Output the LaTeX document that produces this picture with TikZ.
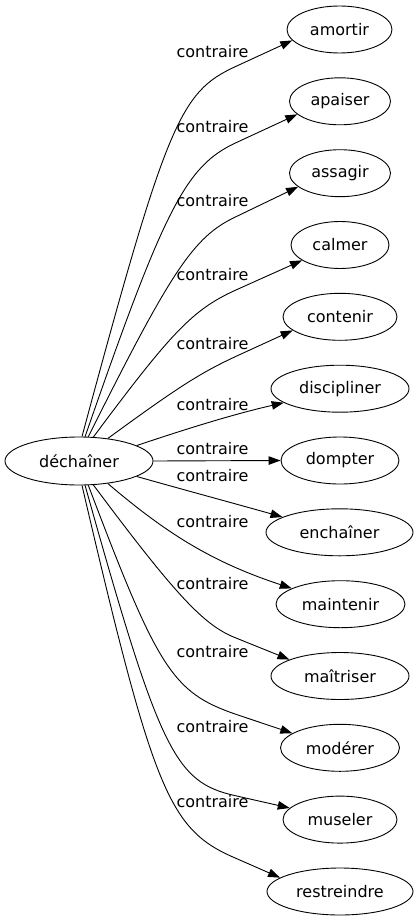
\documentclass[tikz,border=0pt]{standalone}
\usepackage{fontspec}
\setmainfont{DejaVu Sans}
\usetikzlibrary{shapes.geometric,arrows.meta}
\begin{document}
\begin{tikzpicture}[x=1pt,y=-1pt,
  word/.style={draw=black, line width=0.9pt, ellipse, inner sep=0pt, minimum height=47pt, font=\fontsize{16}{19}\selectfont},
  lbl/.style={inner sep=0pt, font=\fontsize{16}{19}\selectfont},
  link/.style={draw=black, line width=0.9pt, -{Triangle[length=12pt,width=8.5pt]}}]
\useasboundingbox (0,0) rectangle (417,923);
\node[word, minimum width=148pt, minimum height=48pt] (dech) at (79,461) {déchaîner};
\node[word, minimum width=105pt] (amortir) at (339.5,29.5) {amortir};
\node[word, minimum width=101pt] (apaiser) at (340,101.3) {apaiser};
\node[word, minimum width=101pt] (assagir) at (340,173.2) {assagir};
\node[word, minimum width=98pt] (calmer) at (340,245) {calmer};
\node[word, minimum width=114pt] (contenir) at (340,316.8) {contenir};
\node[word, minimum width=138pt] (discipliner) at (340,388.7) {discipliner};
\node[word, minimum width=118pt] (dompter) at (340,460.5) {dompter};
\node[word, minimum width=147pt] (enchainer) at (339.5,532.3) {enchaîner};
\node[word, minimum width=129pt] (maintenir) at (340.5,604.2) {maintenir};
\node[word, minimum width=138pt] (maitriser) at (340,676) {maîtriser};
\node[word, minimum width=119pt] (moderer) at (340,747.8) {modérer};
\node[word, minimum width=114pt] (museler) at (340,819.6) {museler};
\node[word, minimum width=146pt] (restreindre) at (340,891.5) {restreindre};

\draw[link] (dech.83) .. controls (166.6,122.4) and (180.1,92.2) .. (235,66.8) -- (amortir.193);
\draw[link] (dech.76) .. controls (163.7,210.1) and (185.4,166.4) .. (235,143.2) -- (apaiser.197);
\draw[link] (dech.69) .. controls (171.6,269.9) and (193.7,236.9) .. (235,217.2) -- (assagir.198);
\draw[link] (dech.59) .. controls (171.6,331.8) and (192.9,309.7) .. (235,290.4) -- (calmer.202);
\draw[link] (dech.38) .. controls (179.4,386) and (200.8,372.9) .. (235,356.8) -- (contenir.196);
\draw[link] (dech.15) .. controls (180,431) and (230,415) .. (discipliner.194);
\draw[link] (dech.east) -- (dompter.west);
\draw[link] (dech.-15) .. controls (170,486) and (240,505) .. (enchainer.165);
\draw[link] (dech.-38) .. controls (168.4,535.2) and (214,562.7) .. (maintenir.162);
\draw[link] (dech.-59) .. controls (175.2,594.6) and (203.6,625.1) .. (235,637.6) -- (maitriser.162);
\draw[link] (dech.-69) .. controls (157.9,669.3) and (172.6,692.2) .. (235,714) -- (moderer.163);
\draw[link] (dech.-76) .. controls (159.6,751) and (174.6,782.1) .. (235,795.6) -- (museler.167);
\draw[link] (dech.-83) .. controls (153.6,792.3) and (168.9,829.5) .. (235,857.9) -- (restreindre.167);

\node[lbl] (l1) at (212.5,52) {contraire};
\node[lbl] (l2) at (212.5,127) {contraire};
\node[lbl] (l3) at (212.5,201) {contraire};
\node[lbl] (l4) at (212.5,275) {contraire};
\node[lbl] (l5) at (212.5,344) {contraire};
\node[lbl] (l6) at (212.5,405) {contraire};
\node[lbl] (l7) at (212.5,449) {contraire};
\node[lbl] (l8) at (212.5,476) {contraire};
\node[lbl] (l9) at (212.5,522) {contraire};
\node[lbl] (l10) at (212.5,584) {contraire};
\node[lbl] (l11) at (212.5,652) {contraire};
\node[lbl] (l12) at (212.5,727) {contraire};
\node[lbl] (l13) at (212.5,802) {contraire};
\end{tikzpicture}
\end{document}
